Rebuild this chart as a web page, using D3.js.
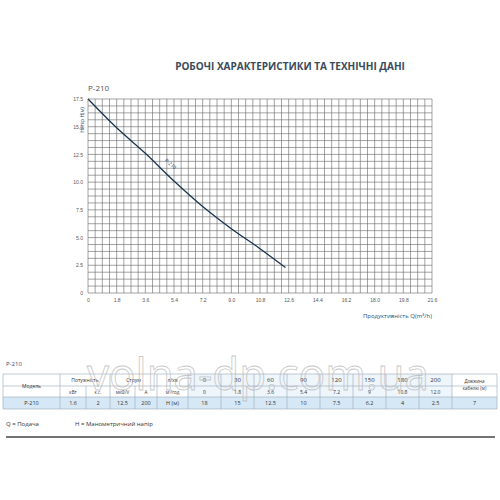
<!DOCTYPE html>
<html><head><meta charset="utf-8">
<script src="https://cdn.jsdelivr.net/npm/d3@7"></script>
<style>body{margin:0;background:#fff;font-family:"Open Sans",sans-serif}</style>
</head><body><div id="chart"></div>
<script>
// curve: Q in m3/h, H in m
const flowQ = [0, 1.8, 3.6, 5.4, 7.2, 9.0, 10.8, 12.4];
const headH = [17.5, 14.9, 12.6, 10.1, 7.8, 5.8, 4.0, 2.3];
const xTicks = [0, 1.8, 3.6, 5.4, 7.2, 9.0, 10.8, 12.6, 14.4, 16.2, 18.0, 19.8, 21.6];
const yTicks = [0, 2.5, 5.0, 7.5, 10.0, 12.5, 15.0, 17.5];

// table
const tableQlmin = ['0', '30', '60', '90', '120', '150', '180', '200'];
const tableQm3 = ['0', '1.8', '3.6', '5.4', '7.2', '9', '10.8', '12.0'];
const tableH = ['18', '15', '12.5', '10', '7.5', '6.2', '4', '2.5'];
const modelRow = ['P-210', '1.6', '2', '12.5', '200', 'H (м)'];

const svg = d3.select('#chart').append('svg').attr('width', 500).attr('height', 500);
const blue = '#1f4e79', grey = '#555';

svg.append('text').attr('x', 290).attr('y', 70).attr('text-anchor', 'middle')
    .attr('font-size', 10).attr('font-weight', 'bold').attr('fill', '#3a4a5a')
    .text('РОБОЧІ ХАРАКТЕРИСТИКИ ТА ТЕХНІЧНІ ДАНІ');
svg.append('text').attr('x', 88).attr('y', 91).attr('font-size', 8).attr('fill', grey).text('P-210');

const x = d3.scaleLinear().domain([0, 21.6]).range([88, 432]);
const y = d3.scaleLinear().domain([0, 17.5]).range([293, 99]);

const g = svg.append('g');
// fine grid, four cells per labelled step
g.selectAll('.vx').data(d3.range(0, 21.6001, 0.45)).join('line')
    .attr('x1', d => x(d)).attr('x2', d => x(d)).attr('y1', y(0)).attr('y2', y(17.5))
    .attr('stroke', '#666').attr('stroke-width', 0.6);
g.selectAll('.hy').data(d3.range(0, 17.5001, 0.625)).join('line')
    .attr('x1', x(0)).attr('x2', x(21.6)).attr('y1', d => y(d)).attr('y2', d => y(d))
    .attr('stroke', '#666').attr('stroke-width', 0.6);

const xAxis = svg.append('g').attr('transform', `translate(0,${y(0) + 2})`)
    .call(d3.axisBottom(x).tickValues(xTicks).tickSize(0).tickFormat(d => d === 0 ? '0' : d3.format('.1f')(d)));
const yAxis = svg.append('g').attr('transform', `translate(${x(0) - 2},0)`)
    .call(d3.axisLeft(y).tickValues(yTicks).tickSize(0).tickFormat(d => d === 0 ? '0' : d3.format('.1f')(d)));
[xAxis, yAxis].forEach(a => {
  a.select('.domain').remove();
  a.selectAll('text').attr('font-size', 5).attr('fill', grey);
});

svg.append('text').attr('transform', 'translate(84,120) rotate(-90)').attr('text-anchor', 'middle')
    .attr('font-size', 5).attr('fill', blue).text('Напір H(м)');
svg.append('text').attr('x', 432).attr('y', 318).attr('text-anchor', 'end')
    .attr('font-size', 6).attr('fill', blue).text('Продуктивність Q(m³/h)');

svg.append('path').datum(flowQ.map((q, i) => [q, headH[i]]))
    .attr('fill', 'none').attr('stroke', '#1a3550').attr('stroke-width', 1.3)
    .attr('d', d3.line().x(d => x(d[0])).y(d => y(d[1])).curve(d3.curveMonotoneX));
svg.append('text').attr('transform', `translate(${x(4.8)},${y(11.9)}) rotate(40)`)
    .attr('font-size', 5).attr('fill', blue).text('P-210');

// table
svg.append('text').attr('x', 6).attr('y', 366).attr('font-size', 6).attr('fill', blue).text('P-210');
const cols = [3, 60, 86, 110, 135, 157, 188];
for (let i = 0; i < 8; i++) cols.push(188 + 33 * (i + 1));
cols.push(497);
const rowY = [374, 386, 397, 409];
const tbl = svg.append('g');
tbl.append('rect').attr('x', 3).attr('y', rowY[2]).attr('width', 494).attr('height', rowY[3] - rowY[2]).attr('fill', '#d6e8f5');
tbl.append('rect').attr('x', 188).attr('y', rowY[0]).attr('width', 264).attr('height', rowY[2] - rowY[0]).attr('fill', '#eef5fb');
tbl.selectAll('.hl').data(rowY).join('line').attr('x1', 3).attr('x2', 497)
    .attr('y1', d => d).attr('y2', d => d).attr('stroke', '#9ab').attr('stroke-width', 0.6);
tbl.selectAll('.vl').data(cols).join('line').attr('x1', d => d).attr('x2', d => d)
    .attr('y1', (d, i) => [2, 4].includes(i) ? rowY[1] : rowY[0]).attr('y2', rowY[3])
    .attr('stroke', '#9ab').attr('stroke-width', 0.6);
const cell = (i, row, txt, span = 1, fs = 5.5) => tbl.append('text')
    .attr('x', (cols[i] + cols[i + span]) / 2).attr('y', row).attr('text-anchor', 'middle')
    .attr('font-size', fs).attr('fill', '#333').text(txt);
cell(0, 388, 'Модель', 1, 5);
cell(1, 382, 'Потужність', 2, 5); cell(3, 382, 'Струм', 2, 5); cell(5, 382, 'л/хв', 1, 5);
['кВт', 'к.с.', 'мкФ/V', 'A', 'м³/год'].forEach((t, i) => cell(i + 1, 393.5, t, 1, 4.5));
tableQlmin.forEach((t, i) => cell(i + 6, 382, t, 1, 6));
tableQm3.forEach((t, i) => cell(i + 6, 393.5, t, 1, 5));
cell(14, 383, 'Довжина', 1, 4.5); cell(14, 390, 'кабелю (м)', 1, 4.5);
modelRow.forEach((t, i) => cell(i, 405, t, 1, 5.5));
tableH.forEach((t, i) => cell(i + 6, 405, t, 1, 5.5));
cell(14, 405, '7', 1, 5.5);
svg.append('text').attr('x', 6).attr('y', 426).attr('font-size', 6).attr('fill', '#333').text('Q = Подача');
svg.append('text').attr('x', 75).attr('y', 426).attr('font-size', 6).attr('fill', '#333').text('H = Манометричний напір');
svg.append('line').attr('x1', 6).attr('x2', 495).attr('y1', 437).attr('y2', 437).attr('stroke', '#444').attr('stroke-width', 1.5);

// watermark
svg.append('text').attr('x', 258).attr('y', 390).attr('text-anchor', 'middle')
    .attr('font-size', 44).attr('fill', 'none').attr('stroke', '#bbb').attr('stroke-width', 0.8).attr('opacity', 0.8)
    .text('volna-dp.com.ua');
</script></body></html>
